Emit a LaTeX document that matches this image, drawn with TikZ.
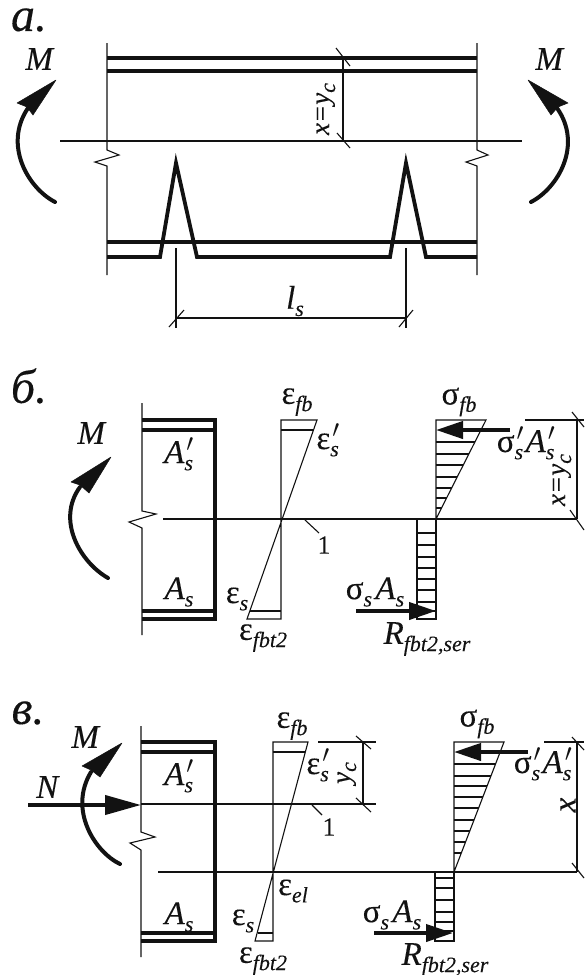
\documentclass[tikz,border=0pt]{standalone}
\usepackage{fontspec}
\setmainfont{Liberation Serif}[ItalicFont={Liberation Serif Italic},ItalicFeatures={FakeBold=0.2},FakeBold=0.2]
\usetikzlibrary{arrows.meta}
\newcommand\sbs[1]{\raisebox{-0.22em}{\fontsize{22}{22}\selectfont\itshape #1}}
\newcommand\prm{\rlap{\sbs{s}}\kern0.06em\raisebox{0.08em}{$'$}}
\newcommand\As{\textit{A}\sbs{s}}
\newcommand\Asp{\textit{A}\prm}
\newcommand\eps{ε}
\newcommand\sig{σ}
\tikzset{
  x=1pt,y=-1pt,
  lbl/.style={inner sep=0pt,outer sep=0pt,font=\fontsize{33}{33}\selectfont,text=ink},
  small/.style={inner sep=0pt,outer sep=0pt,font=\fontsize{26}{26}\selectfont,text=ink},
  head/.style={inner sep=0pt,outer sep=0pt,font=\fontsize{48}{48}\selectfont\itshape,text=ink},
  thin line/.style={draw=ink,line width=1.1pt},
  bar/.style={draw=ink,line width=3.8pt},
  webv/.style={draw=ink,line width=4.6pt},
  force/.style={draw=ink,line width=4pt,-{Triangle[length=27pt,width=17pt]}},
  moment/.style={draw=ink,line width=4pt,line cap=round},
  mhead/.style={fill=ink,draw=ink,line width=0.5pt,line join=round},
}
\definecolor{ink}{gray}{0.07}
\begin{document}
\begin{tikzpicture}
\useasboundingbox (0,0) rectangle (584,975);
% ---------- panel a ----------
\node[head] (ta) at (29,20) {а.};
\draw[thin line] (107,43)--(107,150)--(119,155)--(95,162)--(107,166)--(107,275);
\draw[thin line] (477,43)--(477,150)--(488,155)--(466,162)--(477,166)--(477,275);
\draw[thin line] (60,141)--(522,141);
\draw[bar] (107,58)--(477,58);
\draw[bar] (107,71)--(477,71);
\draw[bar] (107,242)--(477,242);
\draw[bar,line join=miter] (107,257)--(160,257)--(176,163)--(197,257)--(390,257)--(406,163)--(426,257)--(477,257);
\draw[thin line] (343,58)--(343,141);
\draw[thin line] (336,48)--(350,66);
\draw[thin line] (337,133)--(350,148);
\node[lbl,rotate=90,font=\fontsize{27}{27}\selectfont] (xa) at (326,109) {\textit{x=y}\sbs{c}};
\draw[moment] (55,202) .. controls (28,188) and (3,145) .. (28,108);
\fill[mhead] (56,80)--(17,103)--(27,107)--(33,115)--cycle;
\draw[moment] (531,202) .. controls (558,188) and (583,145) .. (557,108);
\fill[mhead] (528,80)--(568,103)--(558,107)--(551,115)--cycle;
\node[lbl] (ma1) at (40,59) {\textit{M}};
\node[lbl] (ma2) at (550,59) {\textit{M}};
\draw[thin line] (176,248)--(176,328);
\draw[thin line] (406,248)--(406,328);
\draw[thin line] (176,318)--(406,318);
\draw[thin line] (169,327)--(184,310);
\draw[thin line] (399,327)--(413,310);
\node[lbl] (ls) at (295,301) {\textit{l}\sbs{s}};
% ---------- panel b ----------
\node[head] (tb) at (29,386) {б.};
\draw[thin line] (142,403)--(142,511)--(156,514)--(129,522)--(142,528)--(142,635);
\draw[bar] (142,420)--(217,420);
\draw[bar] (142,430)--(215,430);
\draw[bar] (142,611)--(215,611);
\draw[bar] (142,619)--(217,619);
\draw[webv] (215,418)--(215,621);
\draw[thin line] (163,519)--(577,519);
\draw[moment] (108,578) .. controls (80,562) and (56,520) .. (80,487);
\fill[mhead] (111,457)--(71,482)--(80,485)--(89,493)--cycle;
\node[lbl] (mb) at (92,433) {\textit{M}};
\node[lbl] (a1b) at (179,454) {\Asp};
\node[lbl] (a2b) at (179,592) {\As};
% strain
\draw[thin line] (281,420)--(317,420)--(247,619)--(281,619)--cycle;
\draw[thin line] (281,430)--(313,430);
\draw[thin line] (250,611)--(281,611);
\draw[thin line] (305,520)--(319,533);
\node[small] (n1b) at (324,545) {1};
\node[lbl] (e1b) at (297,402) {\eps\sbs{fb}};
\node[lbl] (e2b) at (328,440) {\eps\prm};
\node[lbl] (e3b) at (237,599) {\eps\sbs{s}};
\node[lbl] (e4b) at (263,638) {\eps\sbs{fbt2}};
% stress
\draw[thin line] (436,420)--(486,420)--(436,519)--cycle;
\foreach \y in {442,454,465,477,488,498,508}{
  \pgfmathsetmacro\xx{436+50*(519-\y)/99}
  \draw[thin line] (436,\y)--(\xx,\y);
}
\draw[thin line] (417,519) rectangle (436,619);
\foreach \y in {533,545,557,568,579,590,602,611}{\draw[thin line] (417,\y)--(436,\y);}
\draw[force] (510,430)--(436,430);
\draw[force] (356,611)--(436,611);
\node[lbl] (s1b) at (459,402) {\sig\sbs{fb}};
\node[lbl] (s2b) at (526,443) {\sig\prm\kern0.05em\Asp};
\node[lbl] (s3b) at (375,592) {\sig\sbs{s}\kern0.1em\As};
\node[lbl] (s4b) at (427,639) {\textit{R}\sbs{fbt2,ser}};
\draw[thin line] (525,420)--(584,420);
\draw[thin line] (577,420)--(577,519);
\draw[thin line] (572,412)--(584,427);
\draw[thin line] (570,510)--(584,530);
\node[lbl,rotate=90,font=\fontsize{27}{27}\selectfont] (xb) at (562,480) {\textit{x=y}\sbs{c}};
% ---------- panel v ----------
\node[head] (tc) at (28,713) {в.};
\draw[thin line] (141,726)--(141,832)--(155,837)--(130,843)--(141,850)--(141,957);
\draw[bar] (141,742)--(217,742);
\draw[bar] (141,752)--(215,752);
\draw[bar] (141,933)--(215,933);
\draw[bar] (141,941)--(217,941);
\draw[webv] (215,740)--(215,943);
\draw[thin line] (141,804)--(376,804);
\draw[thin line] (158,872)--(577,872);
\draw[moment] (120,864) .. controls (95,852) and (68,810) .. (91,772);
\fill[mhead] (122,743)--(82,766)--(91,770)--(100,777)--cycle;
\node[lbl] (mc) at (86,737) {\textit{M}};
\draw[draw=ink,line width=4pt,-{Triangle[length=36pt,width=19pt]}] (28,805)--(141,805);
\node[lbl] (nc) at (48,787) {\textit{N}};
\node[lbl] (a1c) at (179,776) {\Asp};
\node[lbl] (a2c) at (179,917) {\As};
% strain
\draw[thin line] (273,742)--(308,742)--(255,941)--(273,941)--cycle;
\draw[thin line] (273,752)--(305,752);
\draw[thin line] (258,933)--(273,933);
\draw[thin line] (312,805)--(322,815);
\node[small] (n1c) at (329,827) {1};
\node[lbl] (e1c) at (292,726) {\eps\sbs{fb}};
\node[lbl] (e2c) at (318,765) {\eps\prm};
\node[lbl] (e5c) at (293,891) {\eps\sbs{el}};
\node[lbl] (e3c) at (243,921) {\eps\sbs{s}};
\node[lbl] (e4c) at (263,961) {\eps\sbs{fbt2}};
\draw[thin line] (318,742)--(376,742);
\draw[thin line] (363,742)--(363,804);
\draw[thin line] (356,736)--(371,749);
\draw[thin line] (356,798)--(371,812);
\node[lbl,rotate=90,font=\fontsize{27}{27}\selectfont] (yc) at (347,773) {\textit{y}\sbs{c}};
% stress
\draw[thin line] (454,742)--(504,742)--(454,872)--cycle;
\foreach \y in {764,776,786,797,808,820,831,842,853}{
  \pgfmathsetmacro\xx{454+50*(872-\y)/130}
  \draw[thin line] (454,\y)--(\xx,\y);
}
\draw[thin line] (435,872) rectangle (454,941);
\foreach \y in {878,888,900,912,922,931}{\draw[thin line] (435,\y)--(454,\y);}
\draw[force] (528,752)--(454,752);
\draw[force] (374,933)--(453,933);
\node[lbl] (s1c) at (477,724) {\sig\sbs{fb}};
\node[lbl] (s2c) at (543,764) {\sig\prm\kern0.05em\Asp};
\node[lbl] (s3c) at (392,915) {\sig\sbs{s}\kern0.1em\As};
\node[lbl] (s4c) at (445,960) {\textit{R}\sbs{fbt2,ser}};
\draw[thin line] (544,742)--(584,742);
\draw[thin line] (577,742)--(577,872);
\draw[thin line] (572,737)--(584,750);
\draw[thin line] (572,863)--(584,878);
\node[lbl,rotate=90] (xc) at (568,805) {\textit{x}};
\end{tikzpicture}
\end{document}
